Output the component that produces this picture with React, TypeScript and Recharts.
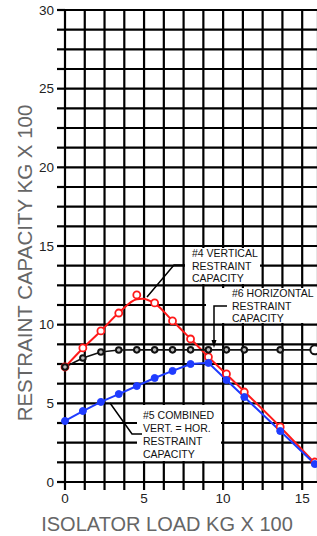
import { ComposedChart, Line, Scatter, XAxis, YAxis, CartesianGrid } from 'recharts'

// isolator load steps (kg x 100)
const LOADS = [0, 1.13, 2.27, 3.4, 4.54, 5.67, 6.8, 7.94, 9.07, 10.21, 11.34, 13.61, 15.8]

// #4 vertical restraint capacity: measured points and the fitted curve drawn through them
const VERTICAL = [7.31, 8.52, 9.6, 10.74, 11.89, 11.38, 10.24, 9.09, 7.95, 6.87, 5.72, 3.5, 1.27]
const VERTICAL_FIT_X = [0, 1.13, 2.27, 3.4, 4.54, 4.9, 5.67, 6.8, 7.94, 9.07, 10.21, 11.34, 13.61, 15.8]
const VERTICAL_FIT_Y = [7.3, 8.5, 9.6, 10.75, 11.62, 11.65, 11.35, 10.25, 9.1, 7.95, 6.85, 5.75, 3.5, 1.2]

// #6 horizontal restraint capacity
const HORIZONTAL = [7.31, 7.88, 8.26, 8.39, 8.4, 8.4, 8.4, 8.4, 8.4, 8.4, 8.4, 8.4, 8.4]

// #5 combined vert. = hor.
const COMBINED = [3.88, 4.51, 5.09, 5.59, 6.1, 6.61, 7.06, 7.5, 7.57, 6.48, 5.4, 3.24, 1.14]

const X_TICKS = [0, 1.25, 2.5, 3.75, 5, 6.25, 7.5, 8.75, 10, 11.25, 12.5, 13.75, 15]
const Y_TICKS = [
  0, 1.25, 2.5, 3.75, 5, 6.25, 7.5, 8.75, 10, 11.25, 12.5, 13.75, 15, 16.25, 17.5, 18.75, 20,
  21.25, 22.5, 23.75, 25, 26.25, 27.5, 28.75, 30,
]

const RED = '#ff1a1a'
const BLUE = '#1f3cff'
const FONT = '"Liberation Sans", Arial, sans-serif'

const toPoints = (xs: number[], ys: number[]) => xs.map((x, i) => ({ x, y: ys[i] }))

const verticalPts = toPoints(LOADS, VERTICAL)
const verticalFit = toPoints(VERTICAL_FIT_X, VERTICAL_FIT_Y)
const horizontalPts = toPoints(LOADS, HORIZONTAL)
const combinedPts = toPoints(LOADS, COMBINED)

const label5 = (v: number) => (v % 5 === 0 ? String(v) : '')

function BlackDot(props: any) {
  const { cx, cy, index } = props
  const last = index === HORIZONTAL.length - 1
  return (
    <circle
      key={`hd-${index}`}
      cx={cx}
      cy={cy}
      r={last ? 4.5 : 2.8}
      fill={last ? '#fff' : '#bbb'}
      stroke='#111'
      strokeWidth={2}
    />
  )
}

function Annotations() {
  const txt = { fontSize: 10.5, fill: '#111', fontFamily: FONT }
  return (
    <svg
      width={317}
      height={536}
      style={{ position: 'absolute', left: 0, top: 0, pointerEvents: 'none' }}
    >
      {/* #4 */}
      <rect x={185} y={248} width={75} height={36} fill='#fff' />
      <polyline points='147,297 174,265 185,265' fill='none' stroke='#000' strokeWidth={1.5} />
      <text x={192} y={257} {...txt}>#4 VERTICAL</text>
      <text x={192} y={269.5} {...txt}>RESTRAINT</text>
      <text x={192} y={282} {...txt}>CAPACITY</text>

      {/* #6 */}
      <rect x={206} y={288} width={111} height={35} fill='#fff' />
      <polyline points='227,306 214,306 214,341' fill='none' stroke='#000' strokeWidth={1.5} />
      <polygon points='211.5,340 216.5,340 214,348' fill='#000' />
      <text x={232} y={297} {...txt}>#6 HORIZONTAL</text>
      <text x={232} y={309.5} {...txt}>RESTRAINT</text>
      <text x={232} y={322} {...txt}>CAPACITY</text>

      {/* #5 */}
      <rect x={137} y={405} width={84} height={56} fill='#fff' />
      <polyline points='110,403 132,434 142,434' fill='none' stroke='#000' strokeWidth={1.5} />
      <text x={143} y={419} {...txt}>#5 COMBINED</text>
      <text x={143} y={432} {...txt}>VERT. = HOR.</text>
      <text x={143} y={445} {...txt}>RESTRAINT</text>
      <text x={143} y={458} {...txt}>CAPACITY</text>

      {/* axis titles */}
      <text
        x={24}
        y={263}
        transform='rotate(-90 24 263)'
        textAnchor='middle'
        dominantBaseline='central'
        fontSize={20.5}
        fill='#666'
        fontFamily={FONT}
      >
        RESTRAINT CAPACITY KG X 100
      </text>
      <text x={167} y={531} textAnchor='middle' fontSize={20} fill='#666' fontFamily={FONT}>
        ISOLATOR LOAD KG X 100
      </text>
    </svg>
  )
}

export default function App() {
  const tick = { fontSize: 13.5, fill: '#222', fontFamily: FONT }
  return (
    <div
      style={{
        position: 'absolute',
        left: 0,
        top: 0,
        width: 317,
        height: 536,
        overflow: 'hidden',
        background: '#fff',
      }}
    >
      <ComposedChart width={320} height={536} margin={{ top: 10, right: 2, left: 0, bottom: 0 }}>
        <CartesianGrid stroke='#000' strokeWidth={2.2} />
        <XAxis
          type='number'
          dataKey='x'
          domain={[0, 16]}
          ticks={X_TICKS}
          interval={0}
          tickFormatter={label5}
          tickSize={8}
          tickMargin={3}
          tick={tick}
          tickLine={{ stroke: '#000', strokeWidth: 2.2 }}
          axisLine={false}
          height={54}
        />
        <YAxis
          type='number'
          dataKey='y'
          domain={[0, 30]}
          ticks={Y_TICKS}
          interval={0}
          tickFormatter={label5}
          tickSize={8}
          tickMargin={3}
          tick={tick}
          tickLine={{ stroke: '#000', strokeWidth: 2.2 }}
          axisLine={false}
          width={65}
        />
        <Line
          data={verticalFit}
          dataKey='y'
          type='monotone'
          stroke={RED}
          strokeWidth={2}
          dot={false}
          activeDot={false}
          isAnimationActive={false}
        />
        <Scatter
          data={verticalPts}
          dataKey='y'
          fill='#fff'
          stroke={RED}
          strokeWidth={1.8}
          shape={(p: any) => (
            <circle cx={p.cx} cy={p.cy} r={3.5} fill='#fff' stroke={RED} strokeWidth={1.8} />
          )}
          isAnimationActive={false}
        />
        <Line
          data={horizontalPts}
          dataKey='y'
          type='linear'
          stroke='#111'
          strokeWidth={1.6}
          dot={BlackDot}
          activeDot={false}
          isAnimationActive={false}
        />
        <Line
          data={combinedPts}
          dataKey='y'
          type='linear'
          stroke={BLUE}
          strokeWidth={2}
          dot={{ r: 3.5, fill: BLUE, stroke: BLUE, strokeWidth: 1 }}
          activeDot={false}
          isAnimationActive={false}
        />
      </ComposedChart>
      <Annotations />
    </div>
  )
}
